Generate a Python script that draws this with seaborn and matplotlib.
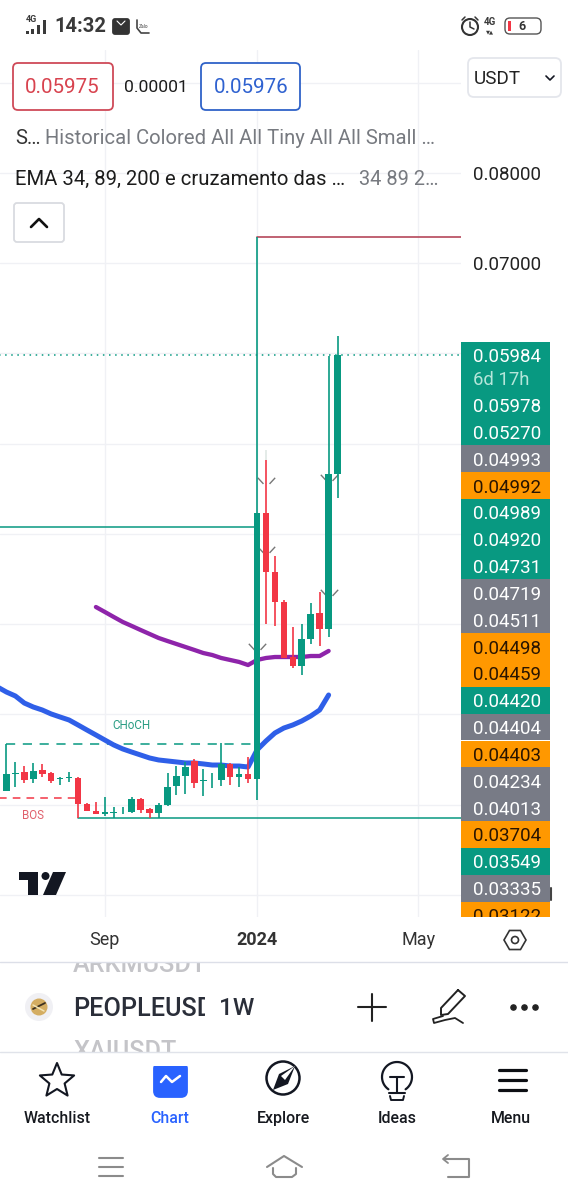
import numpy as np
import matplotlib
matplotlib.use("Agg")
from matplotlib import pyplot as plt
from matplotlib.patches import Rectangle, FancyBboxPatch, Circle, Polygon
from matplotlib.path import Path
import seaborn as sns

# weekly candles, week 0 is the first week of 2024
weeks = list(range(-28, 10))
opens = [.01156, .01341, .01359, .01289, .01381, .01348, .01285, .01296, .01300, .01008,
         .00931, .00898, .00912, .00927, .00920, .01064, .00949, .00912, .01001, .01208,
         .01322, .01481, .01263, .01282, .01274, .01448, .01311, .01341, .01285, .04233,
         .03579, .03247, .02637, .02537, .02837, .03125, .02947, .04665]
closes = [.01341, .01355, .01274, .01378, .01337, .01267, .01293, .01304, .01008, .00931,
          .00901, .00920, .00920, .00934, .01067, .00942, .00909, .01001, .01200, .01319,
          .01422, .01245, .01274, .01289, .01452, .01311, .01337, .01282, .04233, .03579,
          .03247, .02626, .02537, .02837, .03114, .02947, .04665, .05984]
highs = [.01669, .01474, .01429, .01466, .01452, .01367, .01311, .01363, .01304, .01016,
         .01027, .01090, .00979, .00971, .01090, .01078, .00960, .01016, .01348, .01429,
         .01477, .01503, .01392, .01348, .01681, .01466, .01422, .01525, .07291, .04820,
         .03756, .03269, .02970, .03003, .03235, .03357, .05972, .06194]
lows = [.01156, .01200, .01245, .01245, .01311, .01245, .01215, .01252, .00850, .00927,
        .00901, .00879, .00850, .00898, .00912, .00905, .00850, .00850, .00990, .01112,
        .01119, .01182, .01097, .01182, .01208, .01219, .01200, .01237, .01053, .03003,
        .02981, .02626, .02515, .02438, .02781, .02759, .02859, .04399]

ema_blue_weeks = list(range(-29, 9))
ema_blue = [.02305, .02249, .02205, .02127, .02083, .02050, .02006, .01972, .01939, .01884,
            .01828, .01773, .01717, .01662, .01618, .01584, .01551, .01518, .01496, .01485,
            .01474, .01463, .01463, .01452, .01440, .01440, .01429, .01429, .01418, .01607,
            .01706, .01795, .01850, .01884, .01928, .01983, .02050, .02216]
ema_purple_weeks = list(range(-18, 9))
ema_purple = [.03191, .03136, .03080, .03025, .02981, .02936, .02892, .02848, .02814, .02781,
              .02748, .02715, .02681, .02659, .02626, .02604, .02582, .02548, .02604, .02626,
              .02637, .02637, .02637, .02637, .02648, .02648, .02704]

level_choch = .01668
level_bos = .01075
level_low = .00850
level_mid = .04078
level_top = .07291
last_price = .05984

marker_weeks = [1, 1, 0, 8, 8]
marker_prices = [.04532, .03767, .02692, .04565, .03291]

grid_prices = [.00, .01, .02, .03, .04, .05, .06, .07, .08, .09]
price_labels = ["", "", "", "", "", "", "", "0.07000", "0.08000", ""]
date_ticks = [-17, 0, 18]
date_labels = ["Sep", "2024", "May"]

stack_labels = ["0.05978", "0.05270", "0.04993", "0.04992", "0.04989", "0.04920", "0.04731",
                "0.04719", "0.04511", "0.04498", "0.04459", "0.04420", "0.04404", "0.04403",
                "0.04234", "0.04013", "0.03704", "0.03549", "0.03335", "0.03122"]
stack_kinds = ["g", "g", "n", "o", "g", "g", "g", "n", "n", "o", "o", "g", "n", "o", "n", "n",
               "o", "g", "n", "o"]

GREEN = "#089981"
RED = "#f23645"
GRAY = "#787b86"
ORANGE = "#ff9800"
INK = "#131722"
GRID = "#f0f1f5"

sns.set_theme(style="white")
plt.rcParams["font.family"] = ["Roboto", "DejaVu Sans"]

fig = plt.figure(figsize=(5.68, 12), dpi=100, facecolor="white")

# chart pane: 0-461 px across, 50-917 px down
ax = fig.add_axes([0, 1 - 917 / 1200, 461 / 568, 867 / 1200])
ax.set_xlim(-28.715, 22.79)
ax.set_ylim(-.00244, .09363)
ax.set_facecolor("white")
for s in ax.spines.values():
    s.set_visible(False)

ax.yaxis.tick_right()
ax.set_yticks(grid_prices, price_labels, fontsize=13.5, color="#222222")
ax.set_xticks(date_ticks, date_labels, fontsize=13, color="#333333")
ax.get_xticklabels()[1].set_fontweight("bold")
ax.tick_params(axis="y", length=0, pad=9)
ax.tick_params(axis="x", length=0, pad=10)
ax.grid(True, color=GRID, linewidth=1)
ax.set_axisbelow(True)

sns.lineplot(x=ema_blue_weeks, y=ema_blue, ax=ax, color="#2f5fe8", linewidth=3.6, zorder=3, errorbar=None)
sns.lineplot(x=ema_purple_weeks, y=ema_purple, ax=ax, color="#8e24aa", linewidth=3.1, zorder=3, errorbar=None)

candle_colors = [GREEN if c >= o else RED for o, c in zip(opens, closes)]
ax.vlines(weeks, lows, highs, colors=candle_colors, linewidth=1.2, zorder=4)
ax.bar(weeks, np.abs(np.array(closes) - np.array(opens)), bottom=np.minimum(opens, closes),
       width=0.74, color=candle_colors, linewidth=0, zorder=4)
ax.vlines([1], [.04820], [.04931], colors="#dfe7e4", linewidth=1.2, zorder=4)

ax.plot([-28, 0], [level_choch, level_choch], color=GREEN, lw=1.1, dashes=(6, 5), zorder=2)
ax.plot([-30, -20], [level_bos, level_bos], color=RED, lw=1.1, dashes=(5, 4), zorder=2)
ax.plot([-30, 0], [level_mid, level_mid], color=GREEN, lw=1.1, zorder=2)
ax.plot([-20, 23], [level_low, level_low], color=GREEN, lw=1.1, zorder=2)
ax.plot([0, 23], [level_top, level_top], color="#b5475a", lw=1.2, zorder=2)
ax.plot([-30, 23], [last_price, last_price], color=GREEN, lw=1.1, dashes=(1, 3), zorder=2)
ax.text(-14, .01880, "CHoCH", color="#2a9d84", fontsize=8.4, ha="center", va="center")
ax.text(-25, .00880, "BOS", color="#e0606c", fontsize=8.4, ha="center", va="center")

chevron = Path([(-1, 1), (-.35, .3), (.35, .3), (1, 1)],
               [Path.MOVETO, Path.LINETO, Path.MOVETO, Path.LINETO])
ax.plot(marker_weeks, marker_prices, ls="none", marker=chevron, ms=12.5, mfc="none", mec="#777777",
        mew=1.0, zorder=3)

# everything around the chart is drawn in pixel coordinates
ui = fig.add_axes([0, 0, 1, 1], facecolor="none")
ui.set_xlim(0, 568)
ui.set_ylim(1200, 0)
ui.axis("off")


def box(x0, y0, x1, y1, ec, fc="white", lw=1.3, r=5, z=3):
    ui.add_patch(FancyBboxPatch((x0 + r, y0 + r), x1 - x0 - 2 * r, y1 - y0 - 2 * r,
                                boxstyle=f"round,pad={r},rounding_size={r}",
                                ec=ec, fc=fc, lw=lw, zorder=z))


def mask(x0, y0, x1, y1):
    ui.add_patch(Rectangle((x0, y0), x1 - x0, y1 - y0, fc="white", ec="none", zorder=6))


def stroke(xs, ys, c=INK, lw=1.5, z=8):
    ui.plot(xs, ys, color=c, lw=lw, zorder=z, solid_capstyle="round", solid_joinstyle="round")


# status bar
ui.text(54, 26.5, "14:32", fontsize=14.5, fontweight="bold", color="#3a3a3a", va="center")
ui.text(26, 19, "4G", fontsize=6.5, fontweight="bold", color="#3a3a3a", va="center")
for bx, bh in zip([26, 31, 37, 43], [3, 5, 9, 14]):
    ui.add_patch(Rectangle((bx, 34 - bh), 3, bh, fc="#3a3a3a", ec="none"))
box(113, 19, 129, 34, "#333333", fc="#333333", r=2)
stroke([117, 121, 125], [21, 25, 21], c="white", lw=0.8)
stroke([137, 137, 141, 149], [20, 28, 33, 33], c="#444444", lw=1.2)
ui.text(144, 26, "Zalo", fontsize=3.5, color="#444444", ha="center", va="center")
ui.add_patch(Circle((470, 27), 8, fc="none", ec="#333333", lw=1.5))
stroke([470, 470, 474], [22, 27, 29], c="#333333", lw=1.1)
stroke([462, 465], [20, 17], c="#333333", lw=1.1)
stroke([475, 478], [17, 20], c="#333333", lw=1.1)
ui.text(490, 22, "4G", fontsize=7, fontweight="bold", color="#3a3a3a", ha="center", va="center")
ui.text(490, 32, "▼▲", fontsize=3.8, color="#3a3a3a", ha="center", va="center", family="DejaVu Sans")
box(505, 18, 541, 34, "#555555", lw=1, r=5)
ui.add_patch(Rectangle((508, 21), 3, 10, fc=RED, ec="none", zorder=5))
ui.text(522, 26, "6", fontsize=9, fontweight="bold", color="#333333", ha="center", va="center", zorder=5)

# buy / sell boxes
box(13, 63, 113, 110, "#cf4a58")
ui.text(62.5, 87.5, "0.05975", fontsize=14.9, color="#d8434f", ha="center", va="center", zorder=5)
ui.text(156, 87.5, "0.00001", fontsize=12.6, color="#1c1c1c", ha="center", va="center", zorder=5)
box(201, 63, 300, 110, "#2f62c8")
ui.text(251, 87.5, "0.05976", fontsize=14.9, color="#2f62d0", ha="center", va="center", zorder=5)
box(468, 58, 561, 97, "#e4e6ec", r=6)
ui.text(474, 78.5, "USDT", fontsize=13.6, color="#222222", va="center", zorder=5)
stroke([546, 550, 554], [76, 80, 76], lw=1.2)

# legend rows
ui.text(15, 138, "S…", fontsize=14.6, color="#333333", va="center")
ui.text(45, 138, "Historical Colored All All Tiny All All Small …", fontsize=14.6, color="#777a80", va="center")
ui.text(15, 179.5, "EMA 34, 89, 200 e cruzamento das …", fontsize=14.6, color="#1c1c1c", va="center")
ui.text(359, 179.5, "34 89 2…", fontsize=14.4, color="#777a80", va="center")
box(14, 203, 64, 242, "#d9dbe0", r=3)
stroke([31, 39, 47], [227, 219, 227], c="#111111", lw=1.9)

# price labels stacked on the right
ui.add_patch(Rectangle((461, 342), 89, 50, fc=GREEN, ec="none", zorder=3))
ui.text(473, 357, "0.05984", fontsize=13.5, color="white", va="center", zorder=5)
ui.text(473, 380, "6d 17h", fontsize=13.3, color="#b5e6da", va="center", zorder=5)
stack_fill = {"g": GREEN, "n": GRAY, "o": ORANGE}
stack_ink = {"g": "white", "n": "white", "o": "#2a1500"}
for n, (label, kind) in enumerate(zip(stack_labels, stack_kinds)):
    cy = 405 + n * 26.84
    ui.add_patch(Rectangle((461, cy - 13.4), 89, 26.8, fc=stack_fill[kind], ec="none", zorder=3))
    ui.text(473, cy + 2, label, fontsize=13.5, color=stack_ink[kind], va="center", zorder=5)
mask(455, 917, 560, 930)
stroke([551, 551], [888, 900], c="#444444", lw=1.5, z=2)

# TradingView logo
ui.add_patch(Polygon([(19, 872), (38, 872), (38, 895), (28, 895), (28, 880), (19, 880)], fc=INK, ec="none", zorder=5))
ui.add_patch(Circle((45.5, 876), 4, fc=INK, ec="none", zorder=5))
ui.add_patch(Polygon([(53, 872), (66, 872), (56, 895), (43, 895)], fc=INK, ec="none", zorder=5))

# hexagon settings icon
hx = 515 + 11 * np.cos(np.arange(6) * np.pi / 3)
hy = 940 + 11 * np.sin(np.arange(6) * np.pi / 3)
ui.add_patch(Polygon(np.c_[hx, hy], fc="none", ec="#333333", lw=1.2, zorder=7))
ui.add_patch(Circle((515, 940), 3.5, fc="none", ec="#333333", lw=1.2, zorder=7))

# symbol bar
ui.text(73, 972, "ARKMUSDT", fontsize=18.2, color="#c4c4c8", fontweight="medium", zorder=5)
mask(60, 951, 260, 962)
ui.plot([0, 568], [962, 962], color="#dcdfe8", lw=1, zorder=8)
ui.text(73, 1008.5, "PEOPLEUSD", fontsize=18.2, color="#2a2e39", fontweight="medium", va="center", zorder=5)
mask(205, 990, 217, 1025)
ui.text(219, 1008.5, "1W", fontsize=17.6, color="#2a2e39", fontweight="medium", va="center", zorder=8)
ui.text(73, 1059, "XAIUSDT", fontsize=18.2, color="#c4c4c8", fontweight="medium", zorder=5)
mask(60, 1052, 260, 1066)
ui.plot([0, 568], [1052, 1052], color="#e0e3ea", lw=1, zorder=8)

ui.add_patch(Circle((39, 1007), 14, fc="#f0f0f4", ec="none"))
ui.add_patch(Circle((39, 1007), 8.5, fc="#d4ad62", ec="none"))
stroke([33, 45], [1009, 1003], c="#3c3020", lw=1.3)
stroke([33, 44], [1005, 1011], c="#f3e4b4", lw=1.1)
stroke([358, 386], [1007, 1007], c="#222222", lw=1.5)
stroke([372, 372], [994, 1021], c="#222222", lw=1.5)
stroke([458, 465, 448, 441, 441, 458], [990, 996, 1014, 1015, 1008, 990], c="#222222", lw=1.4)
stroke([443, 433, 434, 445, 455, 463], [1016, 1019, 1023, 1020, 1018, 1023], c="#222222", lw=1.3)
ui.scatter([513, 524, 535], [1007, 1007, 1007], s=14, color="#222222", zorder=8)

# bottom navigation
nav_names = ["Watchlist", "Chart", "Explore", "Ideas", "Menu"]
nav_x = [57, 170, 284, 397, 511]
for name, nx in zip(nav_names, nav_x):
    ui.text(nx, 1118.5, name, fontsize=11.4, fontweight="medium", ha="center", va="center",
            color="#2962ff" if name == "Chart" else "#16191f", zorder=8)
ang = -np.pi / 2 + np.arange(10) * np.pi / 5
rad = np.where(np.arange(10) % 2 == 0, 18, 8)
ui.add_patch(Polygon(np.c_[57 + rad * np.cos(ang), 1081 + rad * np.sin(ang)], fc="none", ec=INK, lw=1.5, joinstyle="round"))
box(154, 1063, 187, 1097, "#2962ff", fc="#2962ff", r=6)
stroke([161, 166, 172, 180], [1082, 1076, 1082, 1076], c="white", lw=1.8)
ui.add_patch(Circle((283, 1078), 16.5, fc="none", ec=INK, lw=1.8))
ui.add_patch(Polygon([(295, 1066), (288, 1084), (273, 1090), (279, 1074)], fc=INK, ec="none", zorder=5))
ui.add_patch(Polygon([(295, 1066), (285, 1080), (281, 1076)], fc="white", ec="none", zorder=6))
arc = np.linspace(np.radians(125), np.radians(415), 40)
stroke(397 + 15 * np.cos(arc), 1077 + 15 * np.sin(arc), lw=1.6)
stroke([390, 404], [1077, 1077], lw=1.5)
stroke([397, 397], [1077, 1092], lw=1.5)
stroke([389, 405], [1093, 1093], lw=1.5)
stroke([390, 391, 403, 404], [1096, 1100, 1100, 1096], lw=1.4)
for my in [1070, 1080, 1090]:
    stroke([499, 526], [my, my], c="#0d0f14", lw=2.3)

# android buttons
for ny in [1158, 1167, 1176]:
    stroke([99, 123], [ny, ny], c="#8b8b8b", lw=1.5)
stroke([267, 284, 302], [1167, 1156, 1167], c="#8b8b8b", lw=1.5)
stroke([273, 273, 276, 292, 296, 296], [1168, 1174, 1177, 1177, 1174, 1168], c="#8b8b8b", lw=1.5)
stroke([448, 443, 448], [1155, 1159, 1163], c="#8b8b8b", lw=1.3)
stroke([444, 469, 469, 448], [1159, 1159, 1177, 1177], c="#8b8b8b", lw=1.5)

fig.savefig("out.png", dpi=100)
